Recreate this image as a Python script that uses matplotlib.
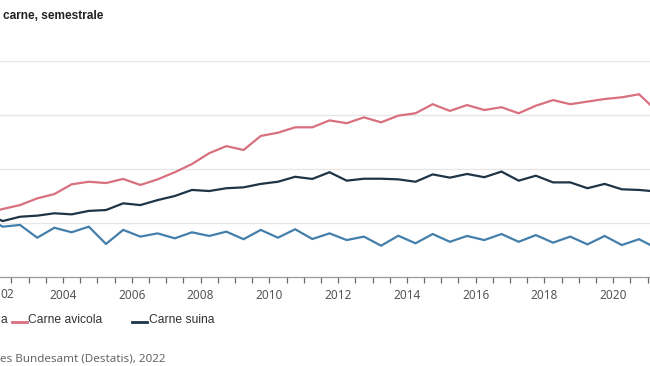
import matplotlib
matplotlib.use("Agg")
import matplotlib.pyplot as plt
from matplotlib.lines import Line2D
import numpy as np

# Semesters (S1 = first half, S2 = second half)
periodi = ["2001-S2",
           "2002-S1", "2002-S2", "2003-S1", "2003-S2", "2004-S1", "2004-S2",
           "2005-S1", "2005-S2", "2006-S1", "2006-S2", "2007-S1", "2007-S2",
           "2008-S1", "2008-S2", "2009-S1", "2009-S2", "2010-S1", "2010-S2",
           "2011-S1", "2011-S2", "2012-S1", "2012-S2", "2013-S1", "2013-S2",
           "2014-S1", "2014-S2", "2015-S1", "2015-S2", "2016-S1", "2016-S2",
           "2017-S1", "2017-S2", "2018-S1", "2018-S2", "2019-S1", "2019-S2",
           "2020-S1", "2020-S2", "2021-S1"]

carne_bovina = [77.5, 73.3, 74.1, 68.2, 72.8, 70.7, 73.3, 65.3, 71.8, 68.7,
                70.2, 67.9, 70.7, 69.0, 71.0, 67.5, 71.8, 68.2, 72.1, 67.6,
                70.2, 67.1, 68.7, 64.5, 69.1, 65.6, 69.9, 66.3, 69.0, 67.1,
                69.9, 66.3, 69.4, 65.9, 68.7, 65.1, 69.0, 64.8, 67.5, 63.4]

carne_avicola = [79.4, 81.5, 83.3, 86.4, 88.4, 92.9, 94.1, 93.5, 95.4, 92.6,
                 95.2, 98.5, 102.3, 107.3, 110.6, 108.8, 115.3, 116.8, 119.3, 119.3,
                 122.5, 121.2, 123.9, 121.6, 124.7, 125.8, 130.0, 126.9, 129.6, 127.3,
                 128.6, 125.8, 129.3, 131.9, 130.0, 131.2, 132.4, 133.2, 134.6, 127.1]

carne_suina = [79.2, 75.9, 77.9, 78.4, 79.5, 79.0, 80.6, 81.0, 84.1, 83.3,
               85.6, 87.5, 90.3, 89.8, 91.1, 91.5, 93.1, 94.1, 96.4, 95.4,
               98.5, 94.6, 95.5, 95.5, 95.2, 94.1, 97.5, 96.0, 97.7, 96.2,
               98.8, 94.6, 96.9, 93.8, 93.8, 91.1, 93.1, 90.6, 90.3, 89.6]

etichette_anni = ["2004", "2006", "2008", "2010", "2012", "2014", "2016", "2018", "2020"]

# texts as visible in the (cropped) reference
titolo = "carne, semestrale"
etichetta_2002 = "02"
legenda = ["a", "Carne avicola", "Carne suina"]
fonte = "es Bundesamt (Destatis), 2022"

# semester -> position on a continuous year axis (middle of the half year)
x = [int(p[:4]) + (0.25 if p.endswith("S1") else 0.75) for p in periodi]

col_bov = "#447fab"
col_avi = "#d8707f"
col_sui = "#1e3447"

W, H = 650, 366
fig = plt.figure(figsize=(W / 100, H / 100), dpi=100)
fig.patch.set_facecolor("white")

ax_top_px, ax_bot_px = 61, 277
ax = fig.add_axes([0.0, (H - ax_bot_px) / H, 1.0, (ax_bot_px - ax_top_px) / H])
ax.set_facecolor("white")

lw = 1.6
ax.plot(x, carne_bovina, color=col_bov, lw=lw, solid_joinstyle="miter", zorder=3)
ax.plot(x, carne_avicola, color=col_avi, lw=lw, solid_joinstyle="miter", zorder=3)
ax.plot(x, carne_suina, color=col_sui, lw=lw, solid_joinstyle="miter", zorder=3)

ax.set_yticks([75, 100, 125, 150])
ax.yaxis.grid(True, color="#e6e6e6", lw=0.9)
ax.set_axisbelow(True)
ax.tick_params(axis="y", left=False, labelleft=False)

for s in ["left", "right", "top"]:
    ax.spines[s].set_visible(False)
ax.spines["bottom"].set_color("#9a9a9a")
ax.spines["bottom"].set_linewidth(0.9)

ax.set_xticks([int(e) for e in etichette_anni])
ax.set_xticklabels(etichette_anni)
ax.set_xticks(np.arange(2002, 2022, 0.5), minor=True)
ax.tick_params(axis="x", which="both", direction="out", length=4.2, width=0.9,
               color="#6a6a6a")
ax.tick_params(axis="x", which="major", pad=4.5, labelsize=8.5, labelcolor="#555555")
for lab in ax.get_xticklabels():
    lab.set_fontfamily("Noto Sans")

# limits last (setting ticks can widen the view)
ax.set_xlim(2002.168, 2021.069)
ax.set_ylim(50, 150)

# visible end of the 2002 tick label
tl = ax.get_xticklabels()[0]
fig.text(0.5 / W, (H - 294) / H, etichetta_2002, ha="left", va="center",
         fontsize=8.5, color="#555555", family="Noto Sans")

# Title
fig.text(2.7 / W, (H - 19) / H, titolo, ha="left", va="baseline",
         fontsize=8.6, fontweight="bold", color="#222222", family="Liberation Sans")

# Legend (manual, to reproduce positions)
ly_text = (H - 320) / H
ly_line = (H - 322) / H
fig.text(0.3 / W, ly_text, legenda[0], ha="left", va="center", fontsize=8.7,
         color="#333333", family="Liberation Sans")
for col, lab, hx0, tx in [(col_avi, legenda[1], 11.7, 28.3),
                          (col_sui, legenda[2], 132, 149)]:
    fig.add_artist(Line2D([hx0 / W, (hx0 + 15) / W], [ly_line, ly_line],
                          transform=fig.transFigure, color=col, lw=2))
    fig.text(tx / W, ly_text, lab, ha="left", va="center", fontsize=8.7,
             color="#333333", family="Liberation Sans")

# Source
fig.text(0.3 / W, (H - 359) / H, fonte, ha="left", va="center",
         fontsize=8.4, color="#666666", family="Noto Sans")

fig.savefig("out.png", dpi=100, facecolor="white")
